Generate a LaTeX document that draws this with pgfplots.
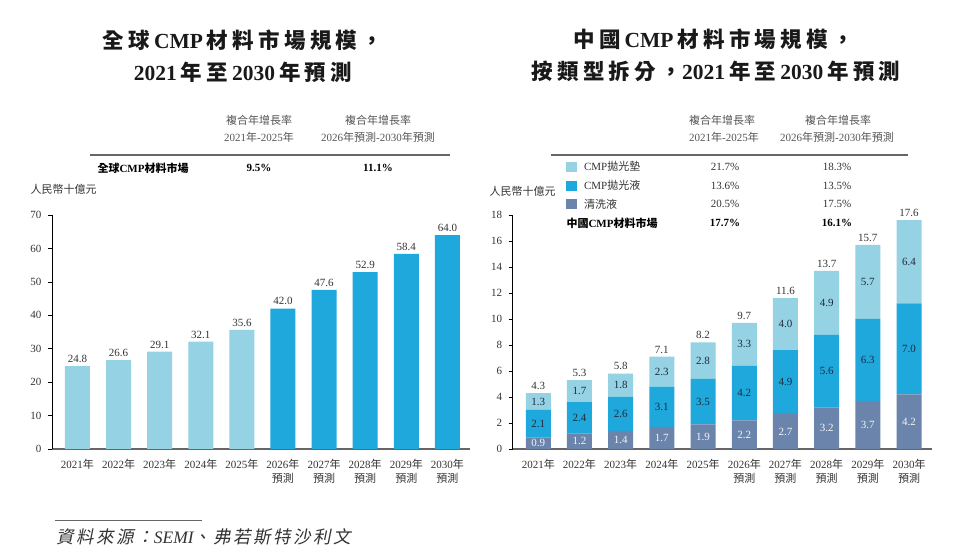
\documentclass[border=0pt]{standalone}
\usepackage{fontspec}
\usepackage{pgfplots}
\pgfplotsset{compat=1.18}
\usepackage{pgfplotstable}

\setmainfont{Liberation Serif}
\newfontfamily\cjk{Noto Sans CJK TC}
\newfontfamily\cjkt{Noto Sans CJK TC}[LetterSpace=20]
\newfontfamily\cjks{Noto Sans CJK TC}[FakeSlant=0.2,LetterSpace=14]
\newcommand\zh[1]{{\cjk #1}}
\newcommand\gap{\hspace{4bp}}

\definecolor{lightbar}{HTML}{95D3E4}
\definecolor{midbar}{HTML}{1FA8DC}
\definecolor{slatebar}{HTML}{6A84AB}
\definecolor{txt}{HTML}{333333}
\definecolor{segtxt}{HTML}{1E2B3C}
\definecolor{hdr}{HTML}{555555}
\definecolor{rulegray}{HTML}{666666}

\newcommand\fsmall{\fontsize{11bp}{13.7bp}\selectfont}
\newcommand\ftitle{\fontsize{21.5bp}{26bp}\selectfont\bfseries}

% Global market, RMB billion
\pgfplotstableread{
x v
0 24.8
1 26.6
2 29.1
3 32.1
4 35.6
}\globalhist
\pgfplotstableread{
x v
5 42.0
6 47.6
7 52.9
8 58.4
9 64.0
}\globalfcst

% China market by type: s = cleaning solution, m = polishing slurry, l = polishing pad, t = total
\pgfplotstableread{
x s m l t
0 0.9 2.1 1.3 4.3
1 1.2 2.4 1.7 5.3
2 1.4 2.6 1.8 5.8
3 1.7 3.1 2.3 7.1
4 1.9 3.5 2.8 8.2
5 2.2 4.2 3.3 9.7
6 2.7 4.9 4.0 11.6
7 3.2 5.6 4.9 13.7
8 3.7 6.3 5.7 15.7
9 4.2 7.0 6.4 17.6
}\china

\pgfplotsset{
  cmpaxis/.style={
    scale only axis, height=234bp,
    xmin=-0.62, xmax=9.55, ymin=0,
    axis x line*=bottom, axis y line*=left,
    axis line style={-},
    x axis line style={draw=rulegray, line width=1.6bp},
    y axis line style={draw=black, line width=0.7bp},
    xtick={0,...,9},
    xticklabels={2021\zh{年},2022\zh{年},2023\zh{年},2024\zh{年},2025\zh{年},
      {2026\zh{年}\\\zh{預測}},{2027\zh{年}\\\zh{預測}},{2028\zh{年}\\\zh{預測}},
      {2029\zh{年}\\\zh{預測}},{2030\zh{年}\\\zh{預測}}},
    xtick style={draw=none},
    ytick style={draw=black, line width=0.7bp},
    tick align=outside, major tick length=4bp,
    tick label style={font=\fsmall, text=txt},
    xticklabel style={align=center, yshift=-3bp},
    yticklabel style={xshift=-3bp},
    /pgf/number format/assume math mode=true,
    bar width=25bp,
    clip=false,
  },
  labelaxis/.style={
    scale only axis, height=234bp,
    xmin=-0.62, xmax=9.55, ymin=0,
    hide axis, clip=false,
  },
}

\begin{document}
\begin{tikzpicture}[x=1bp,y=1bp]
\path[use as bounding box] (0,0) rectangle (980,559);

% ---------- titles ----------
\node[font=\ftitle, text=black!90] at (243,519) {{\cjkt 全球}\gap CMP\gap{\cjkt 材料市場規模，}};
\node[font=\ftitle, text=black!90] at (243,487) {2021\gap{\cjkt 年至}\gap 2030\gap{\cjkt 年預測}};
\node[font=\ftitle, text=black!90] at (713.5,519.7) {{\cjkt 中國}\gap CMP\gap{\cjkt 材料市場規模，}};
\node[font=\ftitle, text=black!90] at (716,487.3) {{\cjkt 按類型拆分，}2021\gap{\cjkt 年至}\gap 2030\gap{\cjkt 年預測}};

% ---------- left CAGR table ----------
\begin{scope}[every node/.style={font=\fsmall}]
\node[text=hdr] at (259,439) {\zh{複合年增長率}};
\node[text=hdr] at (259,422) {2021\zh{年}-2025\zh{年}};
\node[text=hdr] at (378,439) {\zh{複合年增長率}};
\node[text=hdr] at (378,422) {2026\zh{年預測}-2030\zh{年預測}};
\draw[rulegray, line width=1.5bp] (90,404) -- (450,404);
\node[anchor=west, font=\fsmall\bfseries] at (94,391) {\zh{全球}CMP\zh{材料市場}};
\node[font=\fsmall\bfseries] at (259,391) {9.5\%};
\node[font=\fsmall\bfseries] at (378,391) {11.1\%};
\node[anchor=west, text=txt] at (27,370) {\zh{人民幣十億元}};

% ---------- right CAGR table ----------
\node[text=hdr] at (722,439) {\zh{複合年增長率}};
\node[text=hdr] at (724,422) {2021\zh{年}-2025\zh{年}};
\node[text=hdr] at (838,439) {\zh{複合年增長率}};
\node[text=hdr] at (837,422) {2026\zh{年預測}-2030\zh{年預測}};
\draw[rulegray, line width=1.5bp] (551,404) -- (908,404);
\fill[lightbar] (566,387.3) rectangle (577,397.3);
\fill[midbar]   (566,368.3) rectangle (577,378.3);
\fill[slatebar] (566,349.7) rectangle (577,359.7);
\node[anchor=west, text=txt] at (580.5,392.3) {CMP\zh{拋光墊}};
\node[anchor=west, text=txt] at (580.5,373.3) {CMP\zh{拋光液}};
\node[anchor=west, text=txt] at (580.5,354.7) {\zh{清洗液}};
\node[text=txt] at (725,392.3) {21.7\%};
\node[text=txt] at (725,373.3) {13.6\%};
\node[text=txt] at (725,354.7) {20.5\%};
\node[text=txt] at (837,392.3) {18.3\%};
\node[text=txt] at (837,373.3) {13.5\%};
\node[text=txt] at (837,354.7) {17.5\%};
\node[anchor=west, font=\fsmall\bfseries] at (563,335.7) {\zh{中國}CMP\zh{材料市場}};
\node[font=\fsmall\bfseries] at (725,335.7) {17.7\%};
\node[font=\fsmall\bfseries] at (837,335.7) {16.1\%};
\node[anchor=west, text=txt] at (486,368) {\zh{人民幣十億元}};
\end{scope}

% ---------- left chart: global market ----------
\begin{axis}[cmpaxis, at={(52bp,110bp)}, anchor=south west, width=418bp,
  ymax=70, ytick={0,10,...,70}, ybar, bar shift=0pt,
  nodes near coords, point meta=explicit symbolic,
  every node near coord/.append style={font=\fsmall, text=txt}]
\addplot[fill=lightbar, draw=none] table[x=x, y=v, meta=v] {\globalhist};
\addplot[fill=midbar, draw=none] table[x=x, y=v, meta=v] {\globalfcst};
\end{axis}

% ---------- right chart: China market by type ----------
\begin{axis}[cmpaxis, at={(512.7bp,110bp)}, anchor=south west, width=419bp,
  ymax=18, ytick={0,2,...,18}, ybar stacked, bar shift=0pt]
\addplot[fill=slatebar, draw=none] table[x=x, y=s] {\china};
\addplot[fill=midbar, draw=none] table[x=x, y=m] {\china};
\addplot[fill=lightbar, draw=none] table[x=x, y=l] {\china};
\end{axis}

% segment and total labels
\begin{axis}[labelaxis, at={(512.7bp,110bp)}, anchor=south west, width=419bp, ymax=18,
  nodes near coords, point meta=explicit symbolic,
  nodes near coords align={center},
  every node near coord/.append style={font=\fsmall, anchor=center}]
\addplot[draw=none, mark=none, every node near coord/.append style={text=white!92!slatebar}]
  table[x=x, y expr=\thisrow{s}/2, meta=s] {\china};
\addplot[draw=none, mark=none, every node near coord/.append style={text=segtxt}]
  table[x=x, y expr=\thisrow{s}+\thisrow{m}/2, meta=m] {\china};
\addplot[draw=none, mark=none, every node near coord/.append style={text=segtxt}]
  table[x=x, y expr=\thisrow{s}+\thisrow{m}+\thisrow{l}/2, meta=l] {\china};
\addplot[draw=none, mark=none, every node near coord/.append style={text=txt, anchor=south}]
  table[x=x, y=t, meta=t] {\china};
\end{axis}

% ---------- source ----------
\draw[rulegray, line width=1.2bp] (55,38.3) -- (202,38.3);
\node[anchor=west, font=\fontsize{17.5bp}{21bp}\selectfont\itshape, text=txt] at (53,22.3)
  {{\cjks 資料來源：}SEMI{\cjks 、弗若斯特沙利文}};
\end{tikzpicture}
\end{document}
